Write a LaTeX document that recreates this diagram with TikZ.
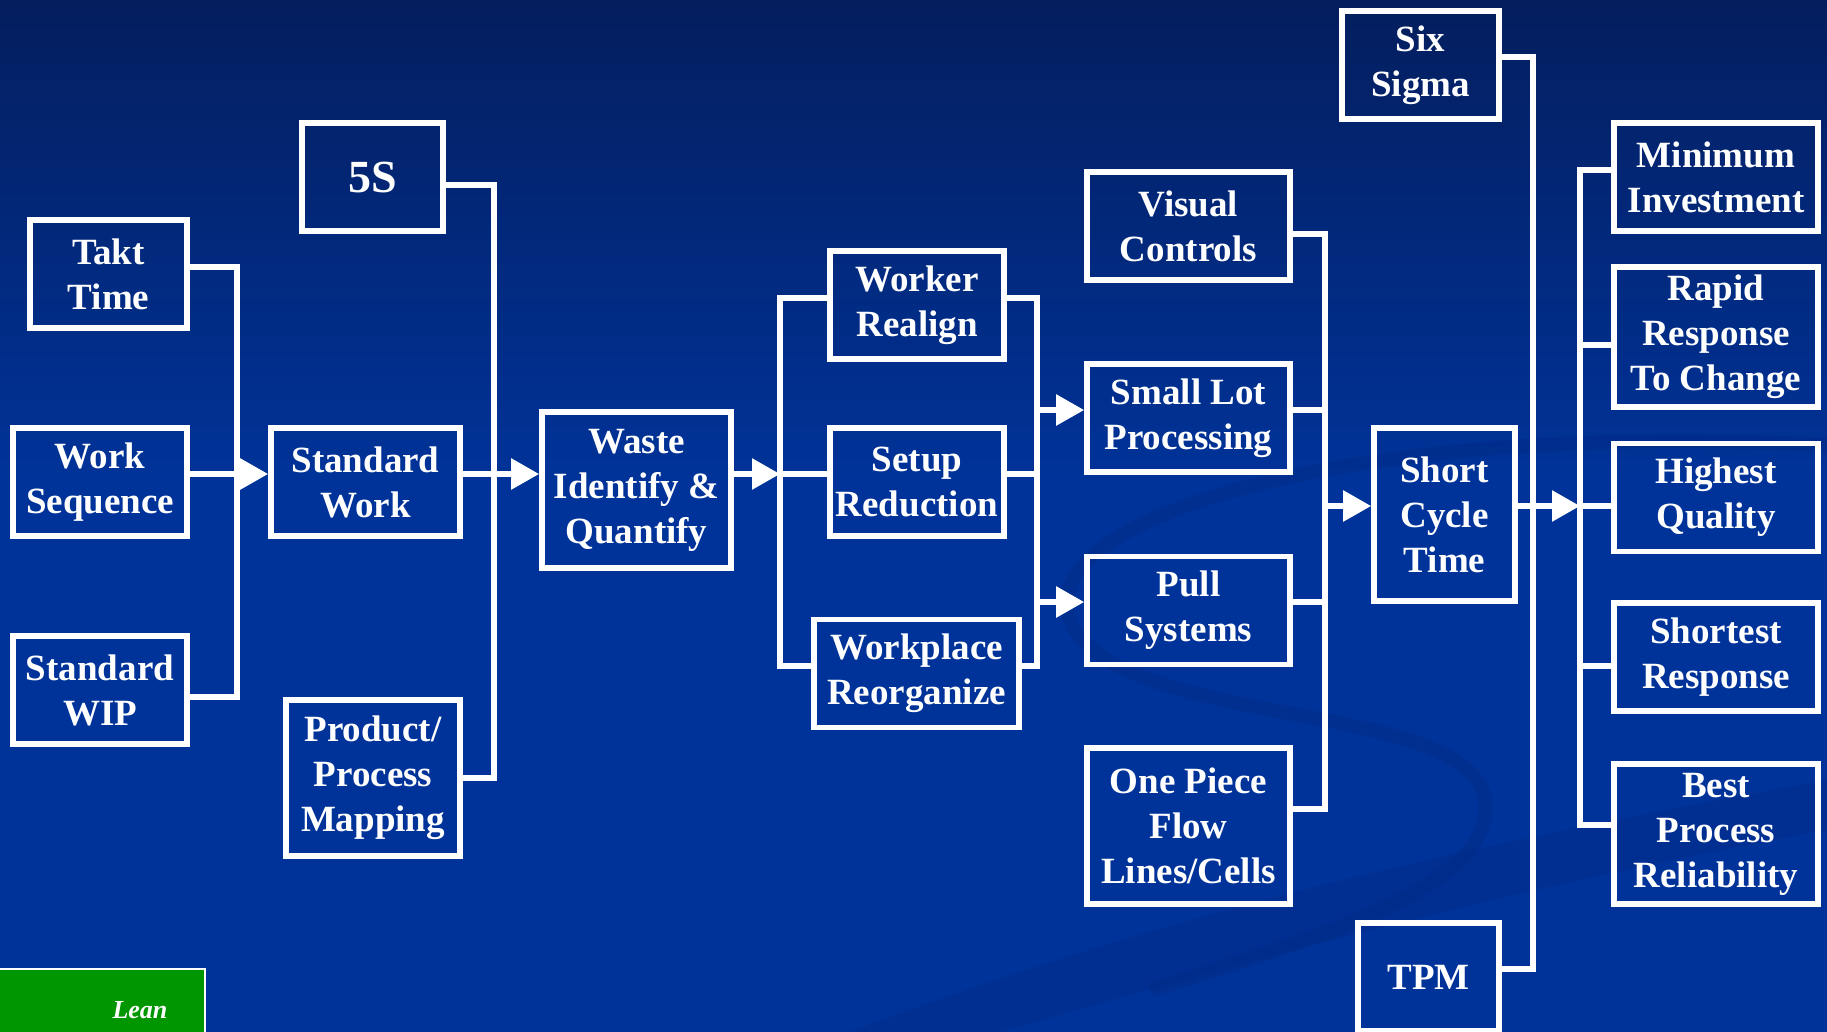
\documentclass[tikz,border=0pt]{standalone}
\usepackage{fontspec}
\setmainfont{Liberation Serif}
\usetikzlibrary{arrows.meta}
\definecolor{navytop}{RGB}{4,30,94}
\definecolor{navy}{RGB}{0,51,153}
\definecolor{swirl}{RGB}{0,40,128}
\definecolor{leangreen}{RGB}{0,150,0}

\begin{document}
\begin{tikzpicture}[x=1pt,y=-1pt,
  box/.style={draw=white, line width=5.7pt, text=white, align=center, inner sep=0pt,
    font=\fontsize{37}{45}\selectfont\bfseries, minimum height=108pt},
  wire/.style={draw=white, line width=5.7pt},
  arr/.style={-{Triangle[length=28pt,width=30pt]}}]
\useasboundingbox (0,0) rectangle (1827,1032);
\clip (0,0) rectangle (1827,1032);
\shade[top color=navytop, bottom color=navy] (0,0) rectangle (1827,480);
\fill[navy] (0,479) rectangle (1827,1032);
\draw[swirl, line width=14pt, opacity=.35] (1827,445) .. controls (1350,420) and (1010,520) .. (1075,630) .. controls (1140,730) and (1470,700) .. (1485,800) .. controls (1495,880) and (1350,930) .. (1150,990);
\fill[swirl, opacity=.3] (850,1032) .. controls (1200,900) and (1500,840) .. (1827,780) -- (1827,830) .. controls (1500,890) and (1250,960) .. (1000,1032) -- cycle;

\node[box, minimum width=157pt] (takt) at (108.5,274) {Takt\\Time};
\node[box, minimum width=174pt] (workseq) at (100,482) {Work\\Sequence};
\node[box, minimum width=174pt] (wip) at (100,690) {Standard\\WIP};
\node[box, minimum width=141pt, font=\fontsize{46}{52}\selectfont\bfseries] (fives) at (372.5,177) {5S};
\node[box, minimum width=189pt] (stdwork) at (365.5,482) {Standard\\Work};
\node[box, minimum width=174pt, minimum height=156pt] (mapping) at (373,778) {Product/\\Process\\Mapping};
\node[box, minimum width=189pt, minimum height=156pt] (waste) at (636.5,490) {Waste\\Identify \&\\Quantify};
\node[box, minimum width=174pt] (worker) at (917,305) {Worker\\Realign};
\node[box, minimum width=174pt] (setup) at (917,482) {Setup\\Reduction};
\node[box, minimum width=205pt] (workplace) at (916.5,673.5) {Workplace\\Reorganize};
\node[box, minimum width=203pt] (visual) at (1188.5,226) {Visual\\Controls};
\node[box, minimum width=203pt] (smalllot) at (1188.5,418) {Small Lot\\Processing};
\node[box, minimum width=203pt] (pull) at (1188.5,610.5) {Pull\\Systems};
\node[box, minimum width=203pt, minimum height=156pt] (onepiece) at (1188.5,826) {One Piece\\Flow\\Lines/Cells};
\node[box, minimum width=157pt] (sixsigma) at (1420.5,65) {Six\\Sigma};
\node[box, minimum width=141pt, minimum height=173pt] (shortcycle) at (1444.5,514.5) {Short\\Cycle\\Time};
\node[box, minimum width=141pt] (tpm) at (1428.5,977) {TPM};
\node[box, minimum width=204pt] (mininv) at (1716,177) {Minimum\\Investment};
\node[box, minimum width=204pt, minimum height=140pt] (rapid) at (1716,337) {Rapid\\Response\\To Change};
\node[box, minimum width=204pt] (highest) at (1716,497.5) {Highest\\Quality};
\node[box, minimum width=204pt] (shortest) at (1716,657) {Shortest\\Response};
\node[box, minimum width=204pt, minimum height=140pt] (best) at (1716,834) {Best\\Process\\Reliability};

\coordinate (busA) at (237,474);
\coordinate (busB) at (494,474);
\coordinate (busC) at (780,474);
\coordinate (busD) at (1037,474);
\coordinate (busE) at (1325,506);
\coordinate (busF) at (1533,506);
\coordinate (busG) at (1580,506);

% takt / sequence / wip
\draw[wire] ([yshift=7pt]takt.east) -| ([yshift=-7pt]busA |- wip.east) -- ([yshift=-7pt]wip.east);
\draw[wire, arr] ([yshift=8pt]workseq.east) -- ([yshift=8pt]stdwork.west);
% 5S / mapping
\draw[wire] ([yshift=-8pt]fives.east) -| (busB |- mapping.east) -- (mapping.east);
\draw[wire, arr] ([yshift=8pt]stdwork.east) -- ([yshift=16pt]waste.west);
\draw[wire, arr] ([yshift=16pt]waste.east) -- (busC);
% worker / setup / workplace
\draw[wire] ([yshift=7pt]worker.west) -| ([yshift=7.5pt]busC |- workplace.west) -- ([yshift=7.5pt]workplace.west);
\draw[wire] ([yshift=8pt]setup.west) -- (busC);
\draw[wire] ([yshift=7pt]worker.east) -| ([yshift=7.5pt]busD |- workplace.east) -- ([yshift=7.5pt]workplace.east);
\draw[wire] ([yshift=8pt]setup.east) -- (busD);
\draw[wire, arr] ([yshift=8pt]busD |- smalllot.west) -- ([yshift=8pt]smalllot.west);
\draw[wire, arr] ([yshift=8.5pt]busD |- pull.west) -- ([yshift=8.5pt]pull.west);
% flow group
\draw[wire] ([yshift=-8pt]visual.east) -| ([yshift=17pt]busE |- onepiece.east) -- ([yshift=17pt]onepiece.east);
\draw[wire] ([yshift=8pt]smalllot.east) -- ([yshift=8pt]busE |- smalllot.east);
\draw[wire] ([yshift=8.5pt]pull.east) -- ([yshift=8.5pt]busE |- pull.east);
\draw[wire, arr] (busE) -- ([yshift=8.5pt]shortcycle.west);
% six sigma / tpm
\draw[wire] ([yshift=8pt]sixsigma.east) -| ([yshift=8pt]busF |- tpm.east) -- ([yshift=8pt]tpm.east);
\draw[wire, arr] ([yshift=8.5pt]shortcycle.east) -- (busG);
% results
\draw[wire] ([yshift=7pt]mininv.west) -| ([yshift=9pt]busG |- best.west) -- ([yshift=9pt]best.west);
\draw[wire] ([yshift=-8pt]rapid.west) -- ([yshift=-8pt]busG |- rapid.west);
\draw[wire] (busG) -- ([yshift=-8.5pt]highest.west);
\draw[wire] ([yshift=-9pt]shortest.west) -- ([yshift=-9pt]busG |- shortest.west);

% logo
\fill[leangreen, draw=white, line width=2pt] (-5,969) rectangle (205,1045);
\node[text=white, font=\fontsize{26}{26}\selectfont\bfseries\itshape] (leanlabel) at (140,1010) {Lean};
\end{tikzpicture}
\end{document}
